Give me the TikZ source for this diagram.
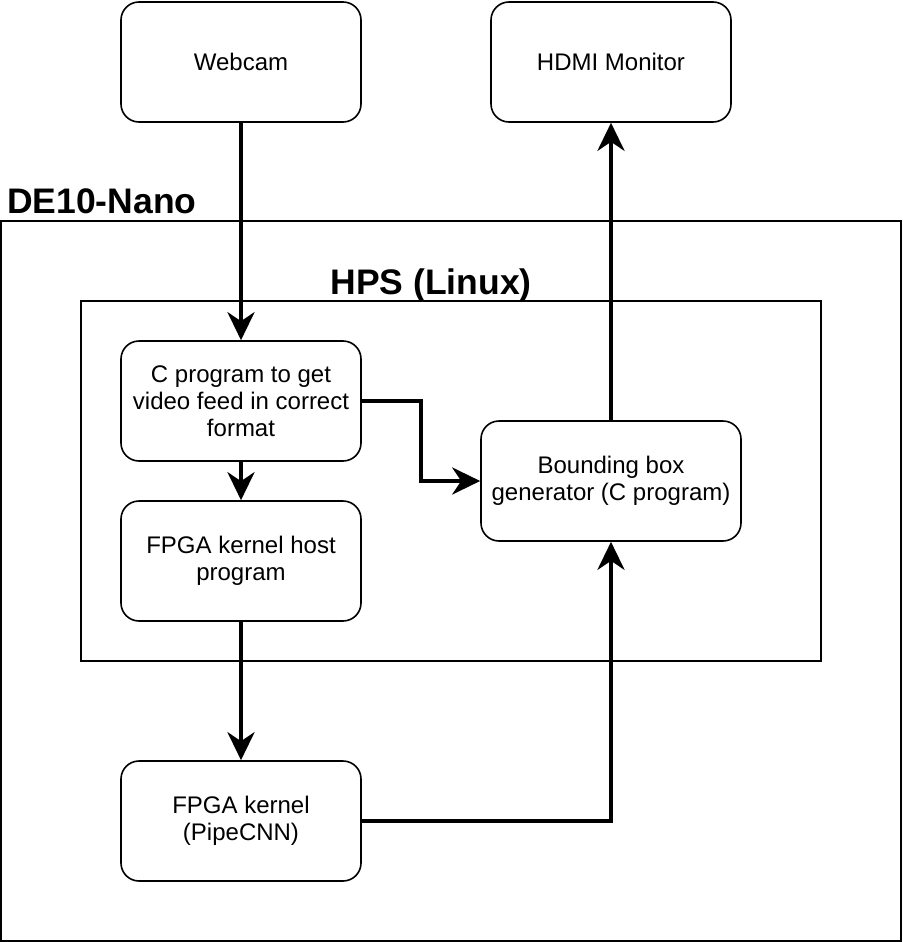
\documentclass[tikz,border=0pt]{standalone}
\usepackage{fontspec}
\setmainfont{Liberation Sans}
\usetikzlibrary{arrows.meta}
\begin{document}
\begin{tikzpicture}[x=1pt,y=-1pt,
  box/.style={draw, line width=1.6pt, rounded corners=18pt, minimum width=240pt, minimum height=120pt, align=center, font=\fontsize{24}{27}\selectfont, inner sep=0pt},
  frame/.style={draw, line width=1.6pt},
  title/.style={font=\fontsize{35.5}{40}\selectfont\bfseries, inner sep=0pt},
  conn/.style={line width=4.5pt, -{Stealth[length=28pt, width=27pt, inset=9pt]}}
]
\useasboundingbox (0,0) rectangle (902,942);
\fill[white] (0,0) rectangle (902,942);
\draw[frame] (1,221) rectangle (901,941);
\draw[frame] (81,301) rectangle (821,661);
\node[title, anchor=base west] (de10) at (7,213) {DE10-Nano};
\node[title, anchor=base] (hps) at (431,294) {HPS (Linux)};
\node[box] (webcam) at (241,62) {Webcam};
\node[box] (hdmi) at (611,62) {HDMI Monitor};
\node[box] (cprog) at (241,401) {C program to get\\video feed in correct\\format};
\node[box] (host) at (241,561) {FPGA kernel host\\program};
\node[box, minimum width=260pt] (bbox) at (611,481) {Bounding box\\generator (C program)};
\node[box] (kernel) at (241,821) {FPGA kernel\\(PipeCNN)};
\draw[conn] (webcam) -- (cprog);
\draw[conn] (cprog) -- (host);
\draw[conn] (cprog.east) -- (421,401) -- (421,481) -- (bbox.west);
\draw[conn] (host) -- (kernel);
\draw[conn] (kernel.east) -- (611,821) -- (bbox.south);
\draw[conn] (bbox) -- (hdmi);
\end{tikzpicture}
\end{document}
